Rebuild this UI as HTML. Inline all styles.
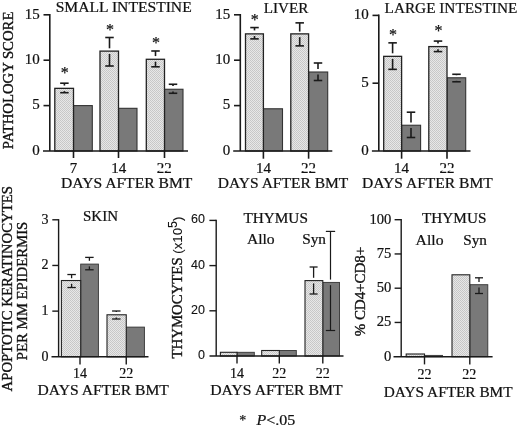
<!DOCTYPE html>
<html lang="en"><head><meta charset="utf-8"><title>Figure</title>
<style>html,body{margin:0;padding:0;background:#fff}svg{display:block;will-change:transform;filter:grayscale(1)}text{font-family:"Liberation Serif","Times New Roman",serif;fill:#111;stroke:#111;stroke-width:0.22}.ss{font-family:"Liberation Sans",Arial,sans-serif;stroke-width:.1}</style>
</head><body>
<svg width="520" height="427" viewBox="0 0 520 427">
<defs><pattern id="stip" width="2" height="2" patternUnits="userSpaceOnUse"><rect width="2" height="2" fill="#e7e7e7"/><rect width="1" height="1" fill="#c6c6c6"/><rect x="1" y="1" width="1" height="1" fill="#c9c9c9"/></pattern></defs>
<rect width="520" height="427" fill="#fff"/>
<text x="55.7" y="12.3" font-size="15" textLength="136" lengthAdjust="spacingAndGlyphs">SMALL INTESTINE</text>
<rect x="73.5" y="105.6" width="18.8" height="45.4" fill="#797979" stroke="#333" stroke-width="1.1"/>
<rect x="54.8" y="88.35" width="18.7" height="62.65" fill="url(#stip)" stroke="#222" stroke-width="1.3"/>
<line x1="73.5" y1="151" x2="73.5" y2="158" stroke="#1a1a1a" stroke-width="1.6"/>
<rect x="118.5" y="108.32" width="18.5" height="42.68" fill="#797979" stroke="#333" stroke-width="1.1"/>
<rect x="100" y="51.12" width="18.5" height="99.88" fill="url(#stip)" stroke="#222" stroke-width="1.3"/>
<line x1="118.5" y1="151" x2="118.5" y2="158" stroke="#1a1a1a" stroke-width="1.6"/>
<rect x="164.5" y="89.26" width="18.5" height="61.74" fill="#797979" stroke="#333" stroke-width="1.1"/>
<rect x="146.3" y="59.29" width="18.2" height="91.71" fill="url(#stip)" stroke="#222" stroke-width="1.3"/>
<line x1="164.5" y1="151" x2="164.5" y2="158" stroke="#1a1a1a" stroke-width="1.6"/>
<line x1="49.8" y1="14" x2="49.8" y2="151" stroke="#1a1a1a" stroke-width="1.6"/>
<line x1="43" y1="151" x2="188" y2="151" stroke="#1a1a1a" stroke-width="1.6"/>
<line x1="43.5" y1="14.8" x2="49.8" y2="14.8" stroke="#1a1a1a" stroke-width="1.6"/>
<text x="39.7" y="18.6" font-size="15" text-anchor="end">15</text>
<line x1="43.5" y1="60.2" x2="49.8" y2="60.2" stroke="#1a1a1a" stroke-width="1.6"/>
<text x="39.7" y="64" font-size="15" text-anchor="end">10</text>
<line x1="43.5" y1="105.6" x2="49.8" y2="105.6" stroke="#1a1a1a" stroke-width="1.6"/>
<text x="39.7" y="109.4" font-size="15" text-anchor="end">5</text>
<text x="39.7" y="154.8" font-size="15" text-anchor="end">0</text>
<line x1="64.4" y1="83.2" x2="64.4" y2="85.55" stroke="#1a1a1a" stroke-width="1.6"/>
<line x1="64.4" y1="91.15" x2="64.4" y2="92.7" stroke="#1a1a1a" stroke-width="1.6"/>
<line x1="60.15" y1="83.2" x2="68.65" y2="83.2" stroke="#1a1a1a" stroke-width="1.6"/>
<line x1="60.15" y1="92.7" x2="68.65" y2="92.7" stroke="#1a1a1a" stroke-width="1.6"/>
<text x="64.7" y="77.92" font-size="16" text-anchor="middle">*</text>
<line x1="109.5" y1="37.5" x2="109.5" y2="48.32" stroke="#1a1a1a" stroke-width="1.6"/>
<line x1="109.5" y1="53.92" x2="109.5" y2="66" stroke="#1a1a1a" stroke-width="1.6"/>
<line x1="105.25" y1="37.5" x2="113.75" y2="37.5" stroke="#1a1a1a" stroke-width="1.6"/>
<line x1="105.25" y1="66" x2="113.75" y2="66" stroke="#1a1a1a" stroke-width="1.6"/>
<text x="110" y="35.22" font-size="16" text-anchor="middle">*</text>
<line x1="155.5" y1="50.99" x2="155.5" y2="56.09" stroke="#1a1a1a" stroke-width="1.6"/>
<line x1="155.5" y1="61.69" x2="155.5" y2="66.79" stroke="#1a1a1a" stroke-width="1.6"/>
<line x1="151.25" y1="50.99" x2="159.75" y2="50.99" stroke="#1a1a1a" stroke-width="1.6"/>
<line x1="151.25" y1="66.79" x2="159.75" y2="66.79" stroke="#1a1a1a" stroke-width="1.6"/>
<text x="156" y="47.52" font-size="16" text-anchor="middle">*</text>
<line x1="173" y1="84.26" x2="173" y2="85.96" stroke="#1a1a1a" stroke-width="1.6"/>
<line x1="173" y1="91.56" x2="173" y2="93.26" stroke="#1a1a1a" stroke-width="1.6"/>
<line x1="168.75" y1="84.26" x2="177.25" y2="84.26" stroke="#1a1a1a" stroke-width="1.6"/>
<line x1="168.75" y1="93.26" x2="177.25" y2="93.26" stroke="#1a1a1a" stroke-width="1.6"/>
<text x="73.5" y="172.7" font-size="15" text-anchor="middle">7</text>
<text x="118.8" y="172.7" font-size="15" text-anchor="middle">14</text>
<text x="164.3" y="172.7" font-size="15" text-anchor="middle">22</text>
<rect x="150" y="168.2" width="30" height="2.6" fill="#fff"/>
<text x="61" y="188.4" font-size="15" textLength="131.4" lengthAdjust="spacingAndGlyphs">DAYS AFTER BMT</text>
<text transform="translate(12.7 149.2) rotate(-90)" font-size="14" style="stroke-width:.35" textLength="137.6" lengthAdjust="spacingAndGlyphs">PATHOLOGY SCORE</text>
<text x="263.7" y="12.5" font-size="15" textLength="44.6" lengthAdjust="spacingAndGlyphs">LIVER</text>
<rect x="263.4" y="108.78" width="19.1" height="42.22" fill="#797979" stroke="#333" stroke-width="1.1"/>
<rect x="245.5" y="33.87" width="17.9" height="117.13" fill="url(#stip)" stroke="#222" stroke-width="1.3"/>
<line x1="263.4" y1="151" x2="263.4" y2="158.7" stroke="#1a1a1a" stroke-width="1.6"/>
<rect x="308.6" y="72" width="19.1" height="79" fill="#797979" stroke="#333" stroke-width="1.1"/>
<rect x="290.8" y="33.87" width="17.8" height="117.13" fill="url(#stip)" stroke="#222" stroke-width="1.3"/>
<line x1="308.6" y1="151" x2="308.6" y2="158.7" stroke="#1a1a1a" stroke-width="1.6"/>
<line x1="240.3" y1="14" x2="240.3" y2="151" stroke="#1a1a1a" stroke-width="1.6"/>
<line x1="233.2" y1="151" x2="332.3" y2="151" stroke="#1a1a1a" stroke-width="1.6"/>
<line x1="234" y1="14.8" x2="240.3" y2="14.8" stroke="#1a1a1a" stroke-width="1.6"/>
<text x="230.2" y="18.6" font-size="15" text-anchor="end">15</text>
<line x1="234" y1="60.2" x2="240.3" y2="60.2" stroke="#1a1a1a" stroke-width="1.6"/>
<text x="230.2" y="64" font-size="15" text-anchor="end">10</text>
<line x1="234" y1="105.6" x2="240.3" y2="105.6" stroke="#1a1a1a" stroke-width="1.6"/>
<text x="230.2" y="109.4" font-size="15" text-anchor="end">5</text>
<text x="230.2" y="154.8" font-size="15" text-anchor="end">0</text>
<line x1="254.5" y1="27.57" x2="254.5" y2="30.42" stroke="#1a1a1a" stroke-width="1.6"/>
<line x1="254.5" y1="36.02" x2="254.5" y2="38.87" stroke="#1a1a1a" stroke-width="1.6"/>
<line x1="250.25" y1="27.57" x2="258.75" y2="27.57" stroke="#1a1a1a" stroke-width="1.6"/>
<line x1="250.25" y1="38.87" x2="258.75" y2="38.87" stroke="#1a1a1a" stroke-width="1.6"/>
<text x="254.8" y="24.52" font-size="16" text-anchor="middle">*</text>
<line x1="299.7" y1="22.87" x2="299.7" y2="31.57" stroke="#1a1a1a" stroke-width="1.6"/>
<line x1="299.7" y1="37.17" x2="299.7" y2="45.87" stroke="#1a1a1a" stroke-width="1.6"/>
<line x1="295.45" y1="22.87" x2="303.95" y2="22.87" stroke="#1a1a1a" stroke-width="1.6"/>
<line x1="295.45" y1="45.87" x2="303.95" y2="45.87" stroke="#1a1a1a" stroke-width="1.6"/>
<line x1="318" y1="63" x2="318" y2="68.95" stroke="#1a1a1a" stroke-width="1.6"/>
<line x1="318" y1="74.55" x2="318" y2="80.5" stroke="#1a1a1a" stroke-width="1.6"/>
<line x1="313.75" y1="63" x2="322.25" y2="63" stroke="#1a1a1a" stroke-width="1.6"/>
<line x1="313.75" y1="80.5" x2="322.25" y2="80.5" stroke="#1a1a1a" stroke-width="1.6"/>
<text x="263.4" y="173" font-size="15" text-anchor="middle">14</text>
<text x="308.6" y="173" font-size="15" text-anchor="middle">22</text>
<rect x="294" y="168.4" width="30" height="2.6" fill="#fff"/>
<text x="217.8" y="188.4" font-size="15" textLength="130.5" lengthAdjust="spacingAndGlyphs">DAYS AFTER BMT</text>
<text x="384.6" y="12.6" font-size="15" textLength="132.7" lengthAdjust="spacingAndGlyphs">LARGE INTESTINE</text>
<rect x="401.6" y="125.24" width="19" height="25.76" fill="#797979" stroke="#333" stroke-width="1.1"/>
<rect x="383.7" y="56.35" width="17.9" height="94.65" fill="url(#stip)" stroke="#222" stroke-width="1.3"/>
<line x1="401.6" y1="151" x2="401.6" y2="158.7" stroke="#1a1a1a" stroke-width="1.6"/>
<rect x="447" y="77.78" width="18.7" height="73.22" fill="#797979" stroke="#333" stroke-width="1.1"/>
<rect x="428.8" y="46.59" width="18.2" height="104.41" fill="url(#stip)" stroke="#222" stroke-width="1.3"/>
<line x1="447" y1="151" x2="447" y2="158.7" stroke="#1a1a1a" stroke-width="1.6"/>
<line x1="378.8" y1="14.6" x2="378.8" y2="151" stroke="#1a1a1a" stroke-width="1.6"/>
<line x1="371.9" y1="151" x2="470.5" y2="151" stroke="#1a1a1a" stroke-width="1.6"/>
<line x1="372.5" y1="15.4" x2="378.8" y2="15.4" stroke="#1a1a1a" stroke-width="1.6"/>
<text x="368.7" y="19.2" font-size="15" text-anchor="end">10</text>
<line x1="372.5" y1="83.2" x2="378.8" y2="83.2" stroke="#1a1a1a" stroke-width="1.6"/>
<text x="368.7" y="87" font-size="15" text-anchor="end">5</text>
<text x="368.7" y="154.8" font-size="15" text-anchor="end">0</text>
<line x1="392.6" y1="42.85" x2="392.6" y2="53.3" stroke="#1a1a1a" stroke-width="1.6"/>
<line x1="392.6" y1="58.9" x2="392.6" y2="69.35" stroke="#1a1a1a" stroke-width="1.6"/>
<line x1="388.35" y1="42.85" x2="396.85" y2="42.85" stroke="#1a1a1a" stroke-width="1.6"/>
<line x1="388.35" y1="69.35" x2="396.85" y2="69.35" stroke="#1a1a1a" stroke-width="1.6"/>
<text x="393" y="39.52" font-size="16" text-anchor="middle">*</text>
<line x1="411" y1="112.2" x2="411" y2="122.44" stroke="#1a1a1a" stroke-width="1.6"/>
<line x1="411" y1="128.04" x2="411" y2="137.5" stroke="#1a1a1a" stroke-width="1.6"/>
<line x1="406.75" y1="112.2" x2="415.25" y2="112.2" stroke="#1a1a1a" stroke-width="1.6"/>
<line x1="406.75" y1="137.5" x2="415.25" y2="137.5" stroke="#1a1a1a" stroke-width="1.6"/>
<line x1="438" y1="41.09" x2="438" y2="43.54" stroke="#1a1a1a" stroke-width="1.6"/>
<line x1="438" y1="49.14" x2="438" y2="51.59" stroke="#1a1a1a" stroke-width="1.6"/>
<line x1="433.75" y1="41.09" x2="442.25" y2="41.09" stroke="#1a1a1a" stroke-width="1.6"/>
<line x1="433.75" y1="51.59" x2="442.25" y2="51.59" stroke="#1a1a1a" stroke-width="1.6"/>
<text x="438.5" y="35.52" font-size="16" text-anchor="middle">*</text>
<line x1="456.5" y1="74.28" x2="456.5" y2="75.23" stroke="#1a1a1a" stroke-width="1.6"/>
<line x1="456.5" y1="80.83" x2="456.5" y2="81.78" stroke="#1a1a1a" stroke-width="1.6"/>
<line x1="452.25" y1="74.28" x2="460.75" y2="74.28" stroke="#1a1a1a" stroke-width="1.6"/>
<line x1="452.25" y1="81.78" x2="460.75" y2="81.78" stroke="#1a1a1a" stroke-width="1.6"/>
<text x="401.6" y="172.7" font-size="15" text-anchor="middle">14</text>
<text x="447" y="172.7" font-size="15" text-anchor="middle">22</text>
<rect x="432" y="168.1" width="30" height="2.6" fill="#fff"/>
<text x="362" y="187.9" font-size="15" textLength="130.8" lengthAdjust="spacingAndGlyphs">DAYS AFTER BMT</text>
<text x="83" y="221" font-size="14" textLength="35" lengthAdjust="spacingAndGlyphs">SKIN</text>
<rect x="80.7" y="264.09" width="17.7" height="92.71" fill="#797979" stroke="#333" stroke-width="0.9"/>
<rect x="61.4" y="280.53" width="19.3" height="76.27" fill="url(#stip)" stroke="#222" stroke-width="1.1"/>
<line x1="80" y1="356.8" x2="80" y2="364.6" stroke="#1a1a1a" stroke-width="1.4"/>
<rect x="126.25" y="327.11" width="18.15" height="29.69" fill="#797979" stroke="#333" stroke-width="0.9"/>
<rect x="107" y="314.78" width="19.25" height="42.02" fill="url(#stip)" stroke="#222" stroke-width="1.1"/>
<line x1="126.25" y1="356.8" x2="126.25" y2="364.6" stroke="#1a1a1a" stroke-width="1.4"/>
<line x1="58.6" y1="219.09" x2="58.6" y2="356.8" stroke="#1a1a1a" stroke-width="1.4"/>
<line x1="51.5" y1="356.8" x2="148.5" y2="356.8" stroke="#1a1a1a" stroke-width="1.4"/>
<line x1="52.3" y1="219.79" x2="58.6" y2="219.79" stroke="#1a1a1a" stroke-width="1.4"/>
<text x="48.5" y="223.59" font-size="14" text-anchor="end">3</text>
<line x1="52.3" y1="265.46" x2="58.6" y2="265.46" stroke="#1a1a1a" stroke-width="1.4"/>
<text x="48.5" y="269.26" font-size="14" text-anchor="end">2</text>
<line x1="52.3" y1="311.13" x2="58.6" y2="311.13" stroke="#1a1a1a" stroke-width="1.4"/>
<text x="48.5" y="314.93" font-size="14" text-anchor="end">1</text>
<text x="48.5" y="360.6" font-size="14" text-anchor="end">0</text>
<line x1="71.6" y1="274.53" x2="71.6" y2="278.23" stroke="#1a1a1a" stroke-width="1.3"/>
<line x1="71.6" y1="283.83" x2="71.6" y2="287.53" stroke="#1a1a1a" stroke-width="1.3"/>
<line x1="67.35" y1="274.53" x2="75.85" y2="274.53" stroke="#1a1a1a" stroke-width="1.3"/>
<line x1="67.35" y1="287.53" x2="75.85" y2="287.53" stroke="#1a1a1a" stroke-width="1.3"/>
<line x1="89.4" y1="257.39" x2="89.4" y2="260.79" stroke="#1a1a1a" stroke-width="1.3"/>
<line x1="89.4" y1="266.39" x2="89.4" y2="269.79" stroke="#1a1a1a" stroke-width="1.3"/>
<line x1="85.15" y1="257.39" x2="93.65" y2="257.39" stroke="#1a1a1a" stroke-width="1.3"/>
<line x1="85.15" y1="269.79" x2="93.65" y2="269.79" stroke="#1a1a1a" stroke-width="1.3"/>
<line x1="116.3" y1="311" x2="116.3" y2="311.98" stroke="#1a1a1a" stroke-width="1.3"/>
<line x1="116.3" y1="317.58" x2="116.3" y2="319" stroke="#1a1a1a" stroke-width="1.3"/>
<line x1="112.05" y1="311" x2="120.55" y2="311" stroke="#1a1a1a" stroke-width="1.3"/>
<line x1="112.05" y1="319" x2="120.55" y2="319" stroke="#1a1a1a" stroke-width="1.3"/>
<text x="80" y="378.2" font-size="14" text-anchor="middle">14</text>
<text x="126.25" y="378.2" font-size="14" text-anchor="middle">22</text>
<rect x="112" y="374.3" width="30" height="2.3" fill="#fff"/>
<text x="37.6" y="395.2" font-size="14" textLength="131.3" lengthAdjust="spacingAndGlyphs">DAYS AFTER BMT</text>
<text transform="translate(12.2 391.5) rotate(-90)" font-size="14" style="stroke-width:.35" textLength="205.5" lengthAdjust="spacingAndGlyphs">APOPTOTIC KERATINOCYTES</text>
<text transform="translate(26.6 360.2) rotate(-90)" font-size="14" style="stroke-width:.35" textLength="138.5" lengthAdjust="spacingAndGlyphs">PER MM EPIDERMIS</text>
<text x="243.4" y="222.9" font-size="14" textLength="64.5" lengthAdjust="spacingAndGlyphs">THYMUS</text>
<text x="246.9" y="244.1" font-size="14" textLength="27.8" lengthAdjust="spacingAndGlyphs">Allo</text>
<text x="302.2" y="244.2" font-size="14" textLength="23.8" lengthAdjust="spacingAndGlyphs">Syn</text>
<rect x="237" y="352.3" width="17.3" height="3.7" fill="#797979" stroke="#333" stroke-width="0.9"/>
<rect x="220.4" y="352.3" width="16.6" height="3.7" fill="url(#stip)" stroke="#222" stroke-width="1.1"/>
<line x1="237" y1="356" x2="237" y2="363.6" stroke="#1a1a1a" stroke-width="1.4"/>
<rect x="279.3" y="350.5" width="17" height="5.5" fill="#797979" stroke="#333" stroke-width="0.9"/>
<rect x="261.7" y="350.5" width="17.6" height="5.5" fill="url(#stip)" stroke="#222" stroke-width="1.1"/>
<line x1="279.3" y1="356" x2="279.3" y2="363.6" stroke="#1a1a1a" stroke-width="1.4"/>
<rect x="322.8" y="282.4" width="16.7" height="73.6" fill="#797979" stroke="#333" stroke-width="0.9"/>
<rect x="305" y="280.6" width="17.8" height="75.4" fill="url(#stip)" stroke="#222" stroke-width="1.1"/>
<line x1="322.8" y1="356" x2="322.8" y2="363.6" stroke="#1a1a1a" stroke-width="1.4"/>
<line x1="216.2" y1="219.7" x2="216.2" y2="356" stroke="#1a1a1a" stroke-width="1.4"/>
<line x1="209.5" y1="356" x2="343.5" y2="356" stroke="#1a1a1a" stroke-width="1.4"/>
<line x1="209.4" y1="220.4" x2="216.2" y2="220.4" stroke="#1a1a1a" stroke-width="1.4"/>
<text x="205" y="223.3" font-size="12.5" text-anchor="end" class="ss">60</text>
<line x1="209.4" y1="265.6" x2="216.2" y2="265.6" stroke="#1a1a1a" stroke-width="1.4"/>
<text x="205" y="268.5" font-size="12.5" text-anchor="end" class="ss">40</text>
<line x1="209.4" y1="310.8" x2="216.2" y2="310.8" stroke="#1a1a1a" stroke-width="1.4"/>
<text x="205" y="313.7" font-size="12.5" text-anchor="end" class="ss">20</text>
<text x="205" y="358.9" font-size="12.5" text-anchor="end" class="ss">0</text>
<line x1="313.6" y1="267" x2="313.6" y2="277.8" stroke="#1a1a1a" stroke-width="1.3"/>
<line x1="313.6" y1="283.4" x2="313.6" y2="294" stroke="#1a1a1a" stroke-width="1.3"/>
<line x1="309.6" y1="267" x2="317.6" y2="267" stroke="#1a1a1a" stroke-width="1.3"/>
<line x1="309.6" y1="294" x2="317.6" y2="294" stroke="#1a1a1a" stroke-width="1.3"/>
<line x1="330.5" y1="231.4" x2="330.5" y2="279.6" stroke="#1a1a1a" stroke-width="1.2"/>
<line x1="330.5" y1="285.2" x2="330.5" y2="330.5" stroke="#1a1a1a" stroke-width="1.2"/>
<line x1="325.85" y1="231.4" x2="335.15" y2="231.4" stroke="#1a1a1a" stroke-width="1.2"/>
<line x1="325.85" y1="330.5" x2="335.15" y2="330.5" stroke="#1a1a1a" stroke-width="1.2"/>
<text x="237" y="378" font-size="14" text-anchor="middle">14</text>
<text x="279.3" y="378" font-size="14" text-anchor="middle">22</text>
<text x="322.8" y="378" font-size="14" text-anchor="middle">22</text>
<rect x="265" y="374.2" width="72" height="2.4" fill="#fff"/>
<text x="210.2" y="395" font-size="14" textLength="132.4" lengthAdjust="spacingAndGlyphs">DAYS AFTER BMT</text>
<text transform="translate(181.8 358.5) rotate(-90)" font-size="14" style="stroke-width:.35" textLength="142" lengthAdjust="spacingAndGlyphs">THYMOCYTES <tspan class="ss" font-size="12.5">(x10</tspan><tspan class="ss" dy="-4.5" font-size="12">5</tspan><tspan class="ss" dy="4.5" font-size="12.5">)</tspan></text>
<text x="422" y="222.6" font-size="14" textLength="64.4" lengthAdjust="spacingAndGlyphs">THYMUS</text>
<text x="415.6" y="245.3" font-size="14" textLength="27.9" lengthAdjust="spacingAndGlyphs">Allo</text>
<text x="463.2" y="245.3" font-size="14" textLength="23.7" lengthAdjust="spacingAndGlyphs">Syn</text>
<rect x="424.5" y="355.4" width="18" height="1.3" fill="#797979" stroke="#333" stroke-width="0.9"/>
<rect x="406.2" y="354" width="18.3" height="2.7" fill="url(#stip)" stroke="#222" stroke-width="1.1"/>
<line x1="424.5" y1="356.7" x2="424.5" y2="364.4" stroke="#1a1a1a" stroke-width="1.4"/>
<rect x="469.8" y="284.7" width="18" height="72" fill="#797979" stroke="#333" stroke-width="0.9"/>
<rect x="452" y="274.8" width="17.8" height="81.9" fill="url(#stip)" stroke="#222" stroke-width="1.1"/>
<line x1="469.8" y1="356.7" x2="469.8" y2="364.4" stroke="#1a1a1a" stroke-width="1.4"/>
<line x1="401.2" y1="219" x2="401.2" y2="356.7" stroke="#1a1a1a" stroke-width="1.4"/>
<line x1="393.5" y1="356.7" x2="492.6" y2="356.7" stroke="#1a1a1a" stroke-width="1.4"/>
<line x1="394.6" y1="219.7" x2="401.2" y2="219.7" stroke="#1a1a1a" stroke-width="1.4"/>
<text x="391.3" y="223.7" font-size="14.6" text-anchor="end">100</text>
<line x1="394.6" y1="253.95" x2="401.2" y2="253.95" stroke="#1a1a1a" stroke-width="1.4"/>
<text x="391.3" y="257.95" font-size="14.6" text-anchor="end">75</text>
<line x1="394.6" y1="288.2" x2="401.2" y2="288.2" stroke="#1a1a1a" stroke-width="1.4"/>
<text x="391.3" y="292.2" font-size="14.6" text-anchor="end">50</text>
<line x1="394.6" y1="322.45" x2="401.2" y2="322.45" stroke="#1a1a1a" stroke-width="1.4"/>
<text x="391.3" y="326.45" font-size="14.6" text-anchor="end">25</text>
<text x="391.3" y="360.7" font-size="14.6" text-anchor="end">0</text>
<line x1="479" y1="277.8" x2="479" y2="281.9" stroke="#1a1a1a" stroke-width="1.3"/>
<line x1="479" y1="287.5" x2="479" y2="293.5" stroke="#1a1a1a" stroke-width="1.3"/>
<line x1="475" y1="277.8" x2="483" y2="277.8" stroke="#1a1a1a" stroke-width="1.3"/>
<line x1="475" y1="293.5" x2="483" y2="293.5" stroke="#1a1a1a" stroke-width="1.3"/>
<text x="424.5" y="379" font-size="14" text-anchor="middle">22</text>
<text x="469.3" y="379" font-size="14" text-anchor="middle">22</text>
<rect x="410" y="374.9" width="75" height="2.4" fill="#fff"/>
<text x="383.8" y="396.7" font-size="14" textLength="128.8" lengthAdjust="spacingAndGlyphs">DAYS AFTER BMT</text>
<text transform="translate(364.9 336.3) rotate(-90)" font-size="14" style="stroke-width:.35" textLength="89.5" lengthAdjust="spacingAndGlyphs">% CD4+CD8+</text>
<text x="242.7" y="425.08" font-size="14" text-anchor="middle">*</text>
<text x="256.5" y="425" font-size="14.5" textLength="38.8" lengthAdjust="spacingAndGlyphs"><tspan font-style="italic">P</tspan>&lt;.05</text>
</svg>
</body></html>
